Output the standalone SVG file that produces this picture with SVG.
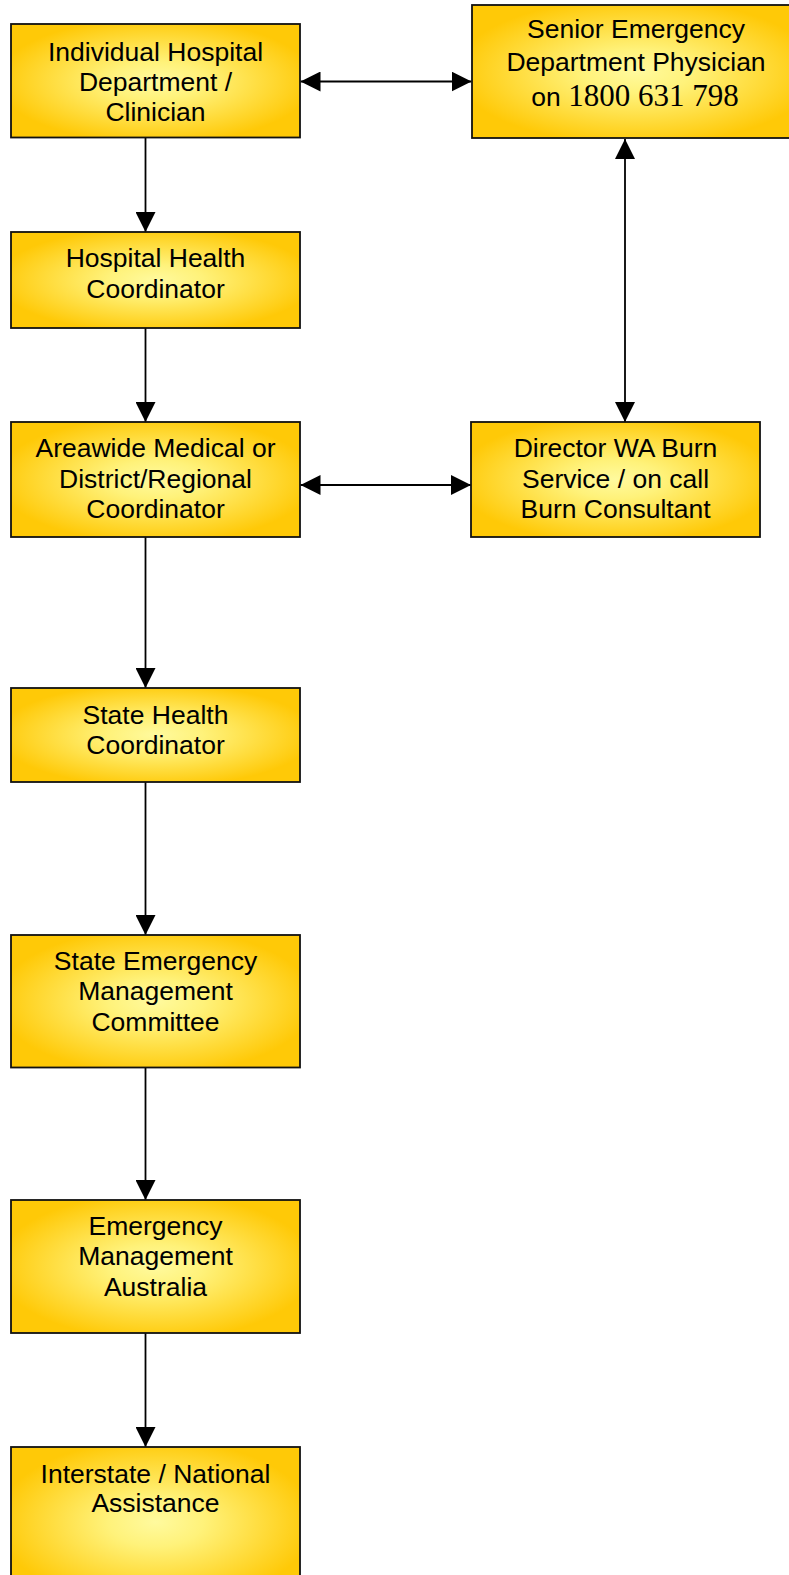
<svg xmlns="http://www.w3.org/2000/svg" width="789" height="1575" viewBox="0 0 789 1575">
  <defs>
    <radialGradient id="gold" cx="0.5" cy="0.5" r="0.55">
      <stop offset="0" stop-color="#FFFA9E"/>
      <stop offset="0.3" stop-color="#FFF27A"/>
      <stop offset="1" stop-color="#FFC907"/>
    </radialGradient>
    <marker id="arr" viewBox="0 0 20 20" refX="20" refY="10" markerWidth="20" markerHeight="20" markerUnits="userSpaceOnUse" orient="auto-start-reverse">
      <path d="M0,0 L20,10 L0,20 Z" fill="#000"/>
    </marker>
  </defs>
  <style>
    .box { fill: url(#gold); stroke: #111; stroke-width: 1.8; }
    .t { font-family: "Liberation Sans", Arial, sans-serif; font-size: 26.5px; fill: #000; text-anchor: middle; }
    .tm { font-family: "Liberation Serif", "Times New Roman", serif; font-size: 31px; }
    .c { stroke: #000; stroke-width: 1.8; fill: none; }
  </style>
  <rect width="789" height="1575" fill="#fff"/>

  <g id="connectors">
    <line class="c" x1="145.5" y1="138" x2="145.5" y2="232" marker-end="url(#arr)"/>
    <line class="c" x1="145.5" y1="328" x2="145.5" y2="422" marker-end="url(#arr)"/>
    <line class="c" x1="145.5" y1="537" x2="145.5" y2="688" marker-end="url(#arr)"/>
    <line class="c" x1="145.5" y1="782" x2="145.5" y2="935" marker-end="url(#arr)"/>
    <line class="c" x1="145.5" y1="1067" x2="145.5" y2="1200" marker-end="url(#arr)"/>
    <line class="c" x1="145.5" y1="1333" x2="145.5" y2="1447" marker-end="url(#arr)"/>
    <line class="c" x1="300.5" y1="81.5" x2="471.5" y2="81.5" marker-start="url(#arr)" marker-end="url(#arr)"/>
    <line class="c" x1="300.5" y1="485" x2="471" y2="485" marker-start="url(#arr)" marker-end="url(#arr)"/>
    <line class="c" x1="625" y1="139" x2="625" y2="422" marker-start="url(#arr)" marker-end="url(#arr)"/>
  </g>

  <g id="individual">
    <rect class="box" x="11" y="24" width="289" height="113.5"/>
    <text class="t" x="155.5" y="61">Individual Hospital</text>
    <text class="t" x="155.5" y="90.5">Department /</text>
    <text class="t" x="155.5" y="120.5">Clinician</text>
  </g>

  <g id="senior">
    <rect class="box" x="472" y="5" width="330" height="133"/>
    <text class="t" x="636" y="37.5">Senior Emergency</text>
    <text class="t" x="636" y="70.5">Department Physician</text>
    <text class="t" x="635" y="106">on <tspan class="tm">1800 631 798</tspan></text>
  </g>

  <g id="hospital-health">
    <rect class="box" x="11" y="232" width="289" height="96"/>
    <text class="t" x="155.5" y="267">Hospital Health</text>
    <text class="t" x="155.5" y="298">Coordinator</text>
  </g>

  <g id="areawide">
    <rect class="box" x="11" y="422" width="289" height="115"/>
    <text class="t" x="155.5" y="457">Areawide Medical or</text>
    <text class="t" x="155.5" y="488">District/Regional</text>
    <text class="t" x="155.5" y="518">Coordinator</text>
  </g>

  <g id="director">
    <rect class="box" x="471" y="422" width="289" height="115"/>
    <text class="t" x="615.5" y="457">Director WA Burn</text>
    <text class="t" x="615.5" y="488">Service / on call</text>
    <text class="t" x="615.5" y="518">Burn Consultant</text>
  </g>

  <g id="state-health">
    <rect class="box" x="11" y="688" width="289" height="94"/>
    <text class="t" x="155.5" y="724">State Health</text>
    <text class="t" x="155.5" y="754">Coordinator</text>
  </g>

  <g id="state-emergency">
    <rect class="box" x="11" y="935" width="289" height="132.5"/>
    <text class="t" x="155.5" y="970">State Emergency</text>
    <text class="t" x="155.5" y="1000">Management</text>
    <text class="t" x="155.5" y="1031">Committee</text>
  </g>

  <g id="ema">
    <rect class="box" x="11" y="1200" width="289" height="133"/>
    <text class="t" x="155.5" y="1235">Emergency</text>
    <text class="t" x="155.5" y="1265">Management</text>
    <text class="t" x="155.5" y="1296">Australia</text>
  </g>

  <g id="interstate">
    <rect class="box" x="11" y="1447" width="289" height="150"/>
    <text class="t" x="155.5" y="1483">Interstate / National</text>
    <text class="t" x="155.5" y="1512">Assistance</text>
  </g>
</svg>
